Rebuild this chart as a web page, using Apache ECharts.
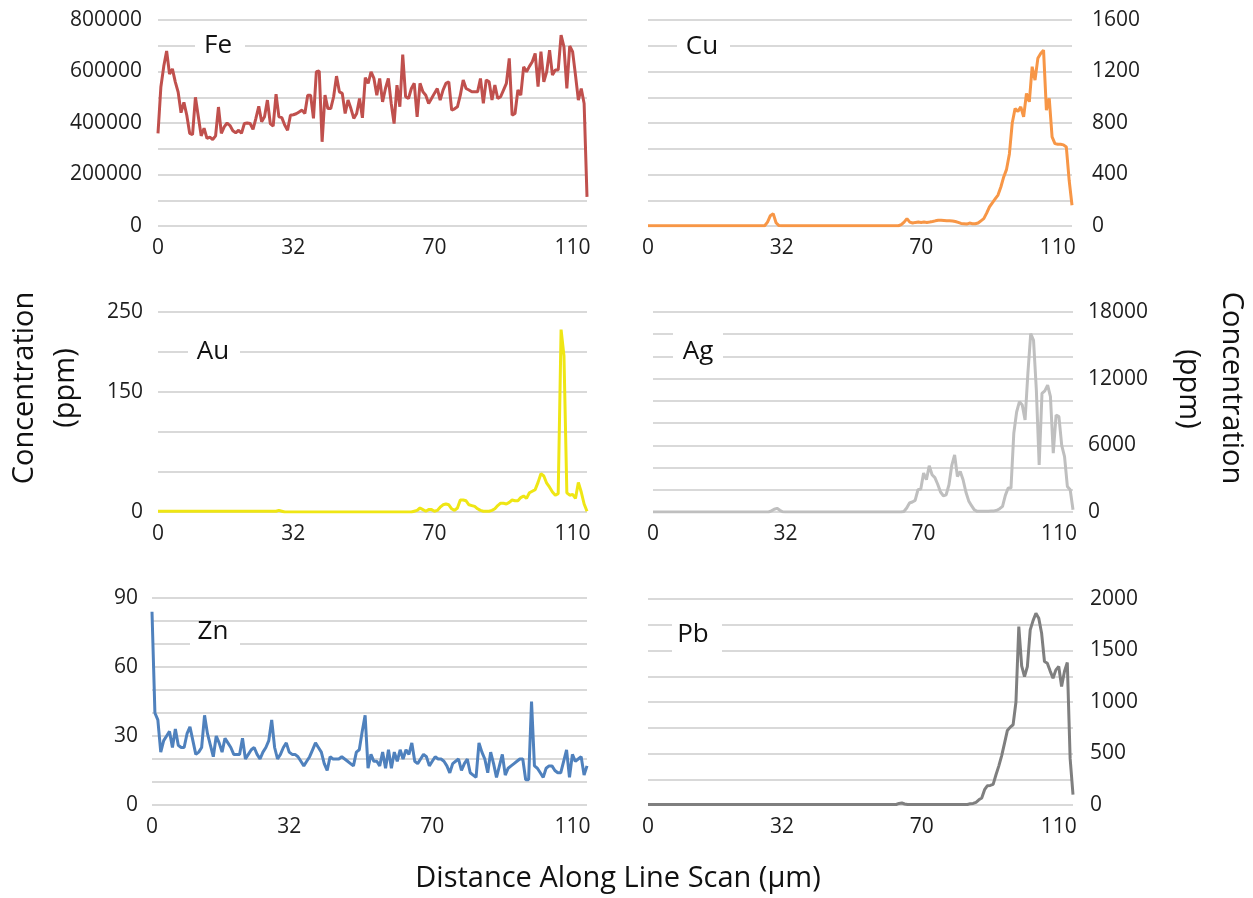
<!DOCTYPE html>
<html>
<head>
<meta charset="utf-8">
<title>Line scan concentrations</title>
<script src="https://cdn.jsdelivr.net/npm/echarts@6/dist/echarts.min.js"></script>
<style>
    html, body { margin: 0; padding: 0; background: #fff; }
    #ecLineScan { width: 1253px; height: 898px; }
</style>
</head>
<body>
<div id="ecLineScan"></div>
<script>
// x axis is a category axis (scan step), only a few steps carry a distance label
var xTickIndex = [0, 47, 96, 144];
var xTickLabel = ["0", "32", "70", "110"];

var feData = [360000, 540000, 620000, 680000, 590000, 610000, 560000, 520000, 440000, 480000,
    430000, 360000, 355000, 500000, 425000, 350000, 380000, 340000, 345000, 336000,
    350000, 462000, 360000, 385000, 400000, 390000, 370000, 362000, 372000, 360000,
    398000, 400000, 398000, 375000, 418000, 465000, 405000, 424000, 489000, 398000,
    388000, 512000, 424000, 421000, 392000, 372000, 430000, 432000, 436000, 443000,
    450000, 437000, 508000, 508000, 418000, 599000, 602000, 327000, 508000, 456000,
    456000, 502000, 582000, 521000, 515000, 437000, 489000, 456000, 418000, 437000,
    495000, 420000, 576000, 554000, 599000, 573000, 508000, 573000, 482000, 534000,
    573000, 476000, 398000, 547000, 463000, 666000, 502000, 495000, 534000, 554000,
    424000, 554000, 521000, 508000, 476000, 495000, 515000, 534000, 489000, 528000,
    554000, 560000, 450000, 455000, 463000, 508000, 567000, 534000, 528000, 521000,
    521000, 521000, 573000, 476000, 567000, 560000, 489000, 547000, 495000, 502000,
    528000, 554000, 651000, 430000, 437000, 528000, 508000, 618000, 599000, 620000,
    638000, 670000, 541000, 677000, 560000, 599000, 683000, 586000, 606000, 606000,
    741000, 696000, 534000, 699000, 677000, 586000, 489000, 534000, 476000, 113000];

var cuData = [2, 2, 2, 2, 2, 2, 2, 2, 2, 2, 2, 2, 2, 2, 2, 2, 2, 2, 2, 2,
    2, 2, 2, 2, 2, 2, 2, 2, 2, 2, 2, 2, 2, 2, 2, 2, 2, 2, 2, 2,
    2, 2, 30, 80, 96, 25, 3, 2, 2, 2, 2, 2, 2, 2, 2, 2, 2, 2, 2, 2,
    2, 2, 2, 2, 2, 2, 2, 2, 2, 2, 2, 2, 2, 2, 2, 2, 2, 2, 2, 2,
    2, 2, 2, 2, 2, 2, 2, 2, 2, 10, 30, 57, 30, 23, 28, 31, 28, 31, 28, 31,
    35, 40, 44, 44, 42, 40, 40, 39, 35, 28, 20, 18, 15, 23, 18, 18, 23, 40, 57, 100,
    148, 180, 210, 240, 303, 381, 440, 560, 800, 913, 890, 925, 848, 1029, 965, 1237, 1133, 1302, 1340, 1366,
    900, 991, 692, 640, 635, 635, 630, 614, 355, 161];

var auData = [1, 1, 1, 1, 1, 1, 1, 1, 1, 1, 1, 1, 1, 1, 1, 1, 1, 1, 1, 1,
    1, 1, 1, 1, 1, 1, 1, 1, 1, 1, 1, 1, 1, 1, 1, 1, 1, 1, 1, 1,
    1, 1, 2, 1, 0, 0, 0, 0, 0, 0, 0, 0, 0, 0, 0, 0, 0, 0, 0, 0,
    0, 0, 0, 0, 0, 0, 0, 0, 0, 0, 0, 0, 0, 0, 0, 0, 0, 0, 0, 0,
    0, 0, 0, 0, 0, 0, 0, 0, 0, 1, 2, 5, 3, 1, 3, 3, 1, 2, 6, 9,
    10, 9, 4, 2, 5, 15, 15, 14, 9, 8, 7, 4, 2, 1, 1, 1, 2, 4, 8, 11,
    11, 10, 12, 15, 14, 14, 18, 20, 17, 24, 26, 28, 37, 48, 45, 36, 31, 25, 21, 23,
    228, 195, 24, 21, 22, 17, 37, 25, 10, 1];

var agData = [0, 0, 0, 0, 0, 0, 0, 0, 0, 0, 0, 0, 0, 0, 0, 0, 0, 0, 0, 0,
    0, 0, 0, 0, 0, 0, 0, 0, 0, 0, 0, 0, 0, 0, 0, 0, 0, 0, 0, 0,
    0, 0, 100, 250, 329, 150, 20, 0, 0, 0, 0, 0, 0, 0, 0, 0, 0, 0, 0, 0,
    0, 0, 0, 0, 0, 0, 0, 0, 0, 0, 0, 0, 0, 0, 0, 0, 0, 0, 0, 0,
    0, 0, 0, 0, 0, 0, 0, 0, 0, 50, 359, 807, 900, 1046, 2003, 2063, 3498, 2900, 4156, 3349,
    3100, 2500, 1800, 1465, 1555, 2452, 4200, 5143, 3200, 3648, 2900, 1800, 1000, 568, 200, 60, 60, 60, 60, 60,
    80, 100, 150, 300, 508, 1500, 2153, 2153, 7086, 9000, 9927, 9628, 8282, 12500, 16056, 15458, 10973, 4246, 10674, 10900,
    11422, 10375, 5292, 8730, 8581, 6000, 4993, 2302, 2003, 209];

var znData = [84, 40, 37, 23, 28, 30, 32, 25, 33, 26, 25, 25, 31, 34, 28, 22, 23, 25, 39, 31,
    26, 21, 30, 27, 23, 29, 27, 25, 22, 22, 22, 29, 20, 22, 24, 25, 22, 20, 23, 25,
    28, 37, 25, 20, 22, 25, 27, 23, 22, 22, 21, 19, 17, 19, 21, 24, 27, 25, 23, 18,
    15, 21, 20, 20, 20, 21, 20, 19, 18, 17, 23, 24, 32, 39, 16, 22, 19, 19, 17, 23,
    16, 24, 16, 23, 19, 24, 20, 24, 22, 27, 19, 18, 20, 22, 21, 17, 19, 21, 20, 20,
    19, 17, 14, 18, 19, 20, 15, 18, 20, 14, 13, 12, 27, 23, 20, 14, 23, 18, 12, 17,
    22, 13, 16, 17, 18, 19, 20, 20, 11, 11, 45, 17, 16, 14, 12, 16, 17, 17, 15, 14,
    14, 19, 24, 12, 22, 19, 20, 21, 13, 17];

var pbData = [5, 5, 5, 5, 5, 5, 5, 5, 5, 5, 5, 5, 5, 5, 5, 5, 5, 5, 5, 5,
    5, 5, 5, 5, 5, 5, 5, 5, 5, 5, 5, 5, 5, 5, 5, 5, 5, 5, 5, 5,
    5, 5, 5, 5, 5, 5, 5, 5, 5, 5, 5, 5, 5, 5, 5, 5, 5, 5, 5, 5,
    5, 5, 5, 5, 5, 5, 5, 5, 5, 5, 5, 5, 5, 5, 5, 5, 5, 5, 5, 5,
    5, 5, 5, 5, 5, 5, 5, 5, 15, 19, 10, 5, 5, 5, 5, 5, 5, 5, 5, 5,
    5, 5, 5, 5, 5, 5, 5, 5, 5, 5, 5, 5, 5, 13, 15, 26, 50, 68, 149, 187,
    190, 200, 294, 380, 480, 601, 724, 756, 779, 1000, 1732, 1350, 1247, 1344, 1700, 1790, 1861, 1813, 1667, 1393,
    1376, 1300, 1231, 1312, 1344, 1150, 1296, 1383, 450, 100];

// y tick labels (grid lines are drawn at every step, only these get a label)
var feTicks = [0, 200000, 400000, 600000, 800000];
var cuTicks = [0, 400, 800, 1200, 1600];
var auTicks = [0, 150, 250];
var agTicks = [0, 6000, 12000, 18000];
var znTicks = [0, 30, 60, 90];
var pbTicks = [0, 500, 1000, 1500, 2000];

var categories = feData.map(function (v, i) { return i; });

var textColor = "#1e1e1e";
var fontName = "Open Sans";

var panels = [
    {name: "Fe", data: feData, ticks: feTicks, color: "#c0504d", max: 800000, step: 100000, side: "left", margin: 16,
        grid: {left: 158, top: 20, width: 429, height: 206}, box: [195, 32, 50, 30], label: [218, 46]},
    {name: "Cu", data: cuData, ticks: cuTicks, color: "#f79646", max: 1600, step: 200, side: "right", margin: 20,
        grid: {left: 648, top: 20, width: 424, height: 206}, box: [677, 32, 53, 30], label: [702, 47]},
    {name: "Au", data: auData, ticks: auTicks, color: "#efe614", max: 250, step: 50, side: "left", margin: 15,
        grid: {left: 158, top: 312, width: 429, height: 200}, box: [188, 337, 52, 30], label: [213, 352]},
    {name: "Ag", data: agData, ticks: agTicks, color: "#bfbfbf", max: 18000, step: 2000, side: "right", margin: 15,
        grid: {left: 653, top: 312, width: 420, height: 200}, box: [673, 328, 50, 40], label: [698, 352]},
    {name: "Zn", data: znData, ticks: znTicks, color: "#4f81bd", max: 90, step: 10, side: "left", margin: 14,
        grid: {left: 152, top: 598, width: 435, height: 207}, box: [190, 626, 50, 34], label: [213, 632]},
    {name: "Pb", data: pbData, ticks: pbTicks, color: "#7f7f7f", max: 2000, step: 250, side: "right", margin: 17,
        grid: {left: 648, top: 599, width: 425, height: 206}, box: [672, 620, 50, 36], label: [693, 635]}
];

var grids = [], xAxes = [], yAxes = [], seriesList = [], graphics = [];

panels.forEach(function (p, i) {
    grids.push(p.grid);
    xAxes.push({
        type: "category",
        gridIndex: i,
        data: categories,
        boundaryGap: false,
        axisLine: {show: false},
        axisTick: {show: false},
        splitLine: {show: false},
        axisLabel: {
            interval: function (idx) { return xTickIndex.indexOf(idx) >= 0; },
            formatter: function (v, idx) { return xTickLabel[xTickIndex.indexOf(idx)]; },
            margin: 12,
            color: textColor,
            fontSize: 21,
            fontFamily: fontName
        }
    });
    yAxes.push({
        type: "value",
        gridIndex: i,
        position: p.side,
        min: 0,
        max: p.max,
        interval: p.step,
        axisLine: {show: false},
        axisTick: {show: false},
        axisLabel: {
            margin: p.margin,
            color: textColor,
            fontSize: 21,
            fontFamily: fontName,
            formatter: function (v) { return p.ticks.indexOf(v) >= 0 ? String(v) : ""; }
        },
        splitLine: {lineStyle: {color: "#d9d9d9", width: 2}}
    });
    seriesList.push({
        name: p.name,
        type: "line",
        xAxisIndex: i,
        yAxisIndex: i,
        data: p.data,
        symbol: "none",
        lineStyle: {color: p.color, width: 3},
        itemStyle: {color: p.color}
    });
    // white box behind the element name, cuts the grid lines like the original
    graphics.push({
        type: "rect",
        shape: {x: p.box[0], y: p.box[1], width: p.box[2], height: p.box[3]},
        style: {fill: "#fff"},
        z: 10
    });
    graphics.push({
        type: "text",
        x: p.label[0],
        y: p.label[1],
        z: 11,
        style: {text: p.name, fill: "#111", font: "26px '" + fontName + "'", align: "center", verticalAlign: "middle"}
    });
});

// axis titles
graphics.push({
    type: "text", x: 25, y: 388, rotation: Math.PI / 2, z: 11,
    style: {text: "Concentration", fill: "#111", font: "29px '" + fontName + "'", align: "center", verticalAlign: "middle"}
});
graphics.push({
    type: "text", x: 66, y: 388, rotation: Math.PI / 2, z: 11,
    style: {text: "(ppm)", fill: "#111", font: "29px '" + fontName + "'", align: "center", verticalAlign: "middle"}
});
graphics.push({
    type: "text", x: 1231, y: 388, rotation: -Math.PI / 2, z: 11,
    style: {text: "Concentration", fill: "#111", font: "29px '" + fontName + "'", align: "center", verticalAlign: "middle"}
});
graphics.push({
    type: "text", x: 1188, y: 389, rotation: -Math.PI / 2, z: 11,
    style: {text: "(ppm)", fill: "#111", font: "29px '" + fontName + "'", align: "center", verticalAlign: "middle"}
});
graphics.push({
    type: "text", x: 618, y: 879, z: 11,
    style: {text: "Distance Along Line Scan (µm)", fill: "#111", font: "29px '" + fontName + "'", align: "center", verticalAlign: "middle"}
});

var chart = echarts.init(document.getElementById("ecLineScan"));
chart.setOption({
    animation: false,
    backgroundColor: "#fff",
    grid: grids,
    xAxis: xAxes,
    yAxis: yAxes,
    series: seriesList,
    graphic: graphics
});

window.addEventListener("resize", function () {
    chart.resize();
});
</script>
</body>
</html>
